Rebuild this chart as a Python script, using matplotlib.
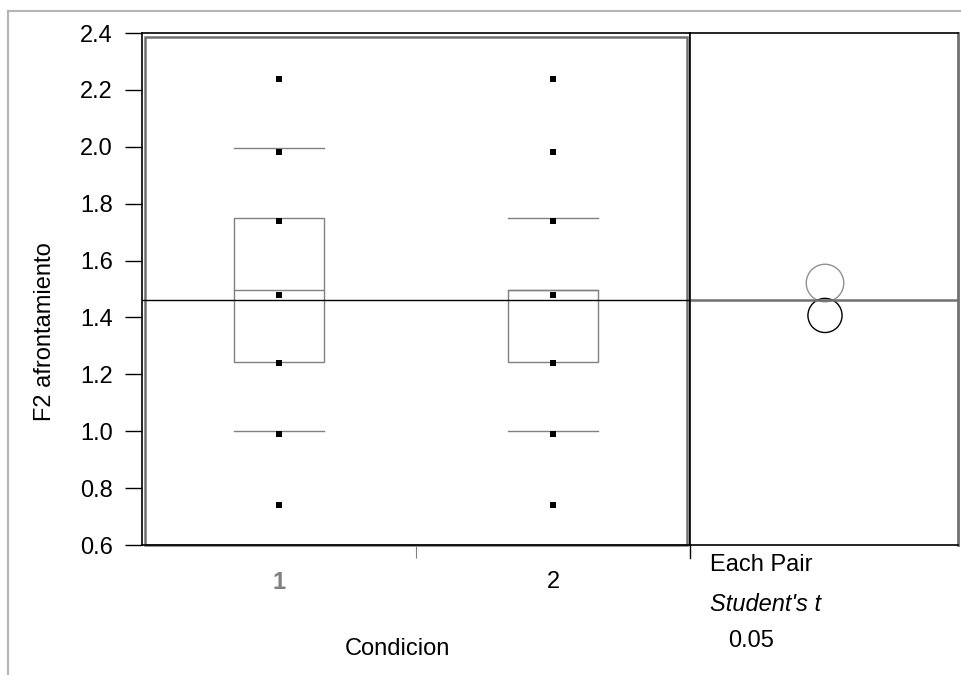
import matplotlib
matplotlib.use("Agg")
import matplotlib.pyplot as plt
from matplotlib.patches import Rectangle, Circle
from matplotlib.lines import Line2D

# ---- data ----
categories = ["1", "2"]
points_1 = [2.24, 1.98, 1.74, 1.48, 1.24, 0.99, 0.74]
points_2 = [2.24, 1.98, 1.74, 1.48, 1.24, 0.99, 0.74]
box_q1 = [1.245, 1.245]
box_med = [1.495, 1.495]
box_q3 = [1.750, 1.495]
upper_line = [1.995, 1.750]
lower_line = [1.000, 1.000]
grand_mean = 1.463
circle_centers = [1.521, 1.407]
circle_radii = [0.066, 0.060]
yticks = [0.6, 0.8, 1.0, 1.2, 1.4, 1.6, 1.8, 2.0, 2.2, 2.4]

plt.rcParams['font.family'] = ['Liberation Sans', 'DejaVu Sans']
FS = 17

W, H = 962, 675
fig = plt.figure(figsize=(W / 100, H / 100), dpi=100)

def fx(px):
    return px / W

def fy(py):
    return 1 - py / H

# outer light gray frame
fig.add_artist(Line2D([fx(8), 1.0], [fy(11), fy(11)], color='#b4b4b4', lw=1.5))
fig.add_artist(Line2D([fx(8), fx(8)], [fy(11), 0.0], color='#b4b4b4', lw=1.5))

L, R, T, B = 142, 690, 33, 545
ax = fig.add_axes([fx(L), fy(B), fx(R - L), (B - T) / H])
ax.set_xlim(0, 2)
ax.set_ylim(0.6, 2.4)

pos = [0.5, 1.5]
hw = 0.165
gray = '#808080'
for i, p in enumerate(pos):
    ax.add_patch(Rectangle((p - hw, box_q1[i]), 2 * hw, box_q3[i] - box_q1[i],
                           fill=False, edgecolor=gray, lw=1.0))
    ax.plot([p - hw, p + hw], [box_med[i], box_med[i]], color=gray, lw=1.0)
    ax.plot([p - hw, p + hw], [upper_line[i], upper_line[i]], color=gray, lw=1.0)
    ax.plot([p - hw, p + hw], [lower_line[i], lower_line[i]], color=gray, lw=1.0)

ax.plot([0.5] * len(points_1), points_1, 's', color='black', ms=4.4, mew=0)
ax.plot([1.5] * len(points_2), points_2, 's', color='black', ms=4.4, mew=0)

ax.axhline(grand_mean, color='black', lw=1.0)

# inner gray selection frame
ax.add_patch(Rectangle((0.006, 0.0), 0.988, 0.992, transform=ax.transAxes,
                       fill=False, edgecolor='#707070', lw=1.8, clip_on=False))

for s in ax.spines.values():
    s.set_color('black')
    s.set_linewidth(1.2)

ax.set_yticks(yticks)
ax.set_yticklabels([f"{v:.1f}" for v in yticks], fontsize=FS)
ax.tick_params(axis='y', direction='out', length=12, width=1.0, pad=9)

ax.set_xticks(pos)
ax.set_xticklabels(categories, fontsize=FS)
ax.tick_params(axis='x', which='major', length=0, pad=19)
xl = ax.get_xticklabels()
xl[0].set_color('#808080')
xl[0].set_fontweight('bold')
ax.set_xticks([1.0], minor=True)
ax.tick_params(axis='x', which='minor', length=9.5, width=0.8, color='#808080')

ax.set_ylabel("F2 afrontamiento", fontsize=FS)
ax.yaxis.set_label_coords(-0.157, 0.417)
ax.set_xlabel("Condicion", fontsize=FS)
ax.xaxis.set_label_coords(0.467, -0.182)

# right comparison-circle panel
R2 = 958
ax2 = fig.add_axes([fx(R), fy(B), fx(R2 - R), (B - T) / H])
ax2.set_ylim(0.6, 2.4)
ax2.set_xlim(0, (R2 - R) / ((B - T) / 1.8))
ax2.set_xticks([])
ax2.set_yticks([])
ax2.axhline(grand_mean, color='#707070', lw=1.8)
cx = (825 - R) / ((B - T) / 1.8)
ax2.add_patch(Circle((cx, circle_centers[0]), circle_radii[0], fill=False,
                     edgecolor='#909090', lw=1.0))
ax2.add_patch(Circle((cx, circle_centers[1]), circle_radii[1], fill=False,
                     edgecolor='black', lw=1.0))
for name, s in ax2.spines.items():
    s.set_color('black')
    s.set_linewidth(1.2)
ax2.spines['right'].set_color('#707070')
ax2.spines['right'].set_linewidth(2)

# separator tick below right panel left edge
fig.add_artist(Line2D([fx(690), fx(690)], [fy(545), fy(558)], color='black', lw=1.0))

fig.text(fx(710), fy(571), "Each Pair", fontsize=FS, va='baseline', ha='left')
fig.text(fx(710), fy(611), "Student's t", fontsize=FS, va='baseline', ha='left', style='italic')
fig.text(fx(728), fy(647), "0.05", fontsize=FS, va='baseline', ha='left')

fig.savefig("out.png", dpi=100)
